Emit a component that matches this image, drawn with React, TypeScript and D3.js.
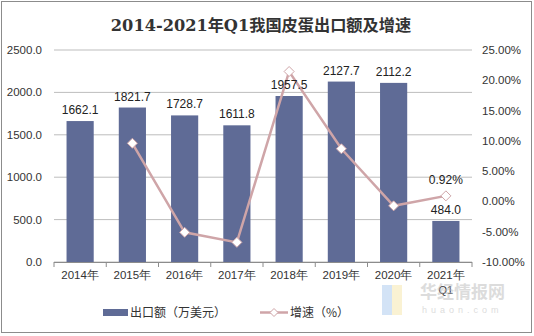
import React from "react";
import * as d3 from "d3";

const categories = ["2014年", "2015年", "2016年", "2017年", "2018年", "2019年", "2020年", "2021年"];
const subLabels = ["", "", "", "", "", "", "", "Q1"];
const exportValues = [1662.1, 1821.7, 1728.7, 1611.8, 1957.5, 2127.7, 2112.2, 484.0];
const growthValues: (number | null)[] = [null, 9.6, -5.1, -6.76, 21.45, 8.69, -0.73, 0.92];
const growthLabelShown = [false, false, false, false, false, false, false, true];
const leftTicks = [0, 500, 1000, 1500, 2000, 2500];
const rightTicks = [-10, -5, 0, 5, 10, 15, 20, 25];

const W = 534, H = 336;
const plotL = 54, plotR = 472, plotT = 50, plotB = 262;
const barColor = "#5f6b96";
const lineColor = "#cfa5a8";
const font = "'Liberation Sans', Arial, sans-serif";

export default function App() {
  const x = d3.scaleBand<string>().domain(categories).range([plotL, plotR]).paddingInner(0.48).paddingOuter(0.24);
  const band = d3.scaleBand<string>().domain(categories).range([plotL, plotR]);
  const yL = d3.scaleLinear().domain([0, 2500]).range([plotB, plotT]);
  const yR = d3.scaleLinear().domain([-10, 25]).range([plotB, plotT]);

  const pts = categories
    .map((c, i) => ({ c, v: growthValues[i], i }))
    .filter((d) => d.v !== null) as { c: string; v: number; i: number }[];
  const line = d3
    .line<{ c: string; v: number }>()
    .x((d) => (band(d.c) as number) + band.bandwidth() / 2)
    .y((d) => yR(d.v));

  const diamond = (cx: number, cy: number, r: number) =>
    `M${cx},${cy - r}L${cx + r},${cy}L${cx},${cy + r}L${cx - r},${cy}Z`;

  return (
    <svg width={W} height={H} style={{ position: "fixed", left: 0, top: 0, background: "#fff" }}>
      <rect x={1.5} y={1.5} width={530} height={331} fill="#fff" stroke="#8c8c8c" strokeWidth={1} />
      <text x={261} y={31} textAnchor="middle" fontFamily="'DejaVu Serif', 'Noto Sans CJK SC', serif" fontWeight="bold" fontSize={16.2} fill="#333">
        2014-2021年Q1我国皮蛋出口额及增速
      </text>
      {leftTicks.map((t) => (
        <line key={t} x1={plotL} x2={plotR} y1={yL(t)} y2={yL(t)} stroke="#bdbdbd" strokeWidth={1} />
      ))}
      {leftTicks.map((t) => (
        <text key={t} x={42} y={yL(t) + 4} textAnchor="end" fontFamily={font} fontSize={11.5} fill="#333">
          {t.toFixed(1)}
        </text>
      ))}
      {rightTicks.map((t) => (
        <text key={t} x={482} y={yR(t) + 4} textAnchor="start" fontFamily={font} fontSize={11.5} fill="#333">
          {t.toFixed(2)}%
        </text>
      ))}
      {categories.map((c, i) => (
        <rect key={c} x={x(c)} y={yL(exportValues[i])} width={x.bandwidth()} height={plotB - yL(exportValues[i])} fill={barColor} />
      ))}
      <line x1={plotL} x2={plotR} y1={plotB + 0.5} y2={plotB + 0.5} stroke="#8c8c8c" />
      {categories.concat([""]).map((c, i) => {
        const xx = plotL + i * band.bandwidth();
        return <line key={i} x1={xx} x2={xx} y1={plotB} y2={plotB + 5} stroke="#8c8c8c" />;
      })}
      {categories.map((c, i) => (
        <g key={c}>
          <text x={(band(c) as number) + band.bandwidth() / 2} y={plotB + 17} textAnchor="middle" fontFamily={font} fontSize={11.5} fill="#333">
            {c}
          </text>
          {subLabels[i] && (
            <text x={(band(c) as number) + band.bandwidth() / 2} y={plotB + 32} textAnchor="middle" fontFamily={font} fontSize={11} fill="#333">
              {subLabels[i]}
            </text>
          )}
        </g>
      ))}
      <path d={line(pts) || ""} fill="none" stroke={lineColor} strokeWidth={2.5} />
      {pts.map((d) => (
        <path key={d.c} d={diamond((band(d.c) as number) + band.bandwidth() / 2, yR(d.v), 5)} fill="#fff" stroke={lineColor} strokeWidth={1} />
      ))}
      {categories.map((c, i) => (
        <text key={c} x={(band(c) as number) + band.bandwidth() / 2} y={yL(exportValues[i]) - 7} textAnchor="middle" fontFamily={font} fontSize={12} fill="#222">
          {exportValues[i].toFixed(1)}
        </text>
      ))}
      {pts.filter((d) => growthLabelShown[d.i]).map((d) => (
        <text key={d.c} x={(band(d.c) as number) + band.bandwidth() / 2} y={yR(d.v) - 12} textAnchor="middle" fontFamily={font} fontSize={12} fill="#222">
          {d.v.toFixed(2)}%
        </text>
      ))}
      <g opacity={0.5}>
        <rect x={382} y={285} width={10} height={30} fill="#a9c8ee" />
        <rect x={392} y={285} width={10} height={30} fill="#f6e7a8" />
        <text x={420} y={298} fontFamily="'Noto Sans CJK SC', sans-serif" fontSize={17} fontWeight="bold" fill="#bbb">华经情报网</text>
        <text x={422} y={313} fontFamily={font} fontSize={9} letterSpacing={4} fill="#bbb">huaon.com</text>
      </g>
      <rect x={103} y={309} width={25} height={7} fill={barColor} />
      <text x={130} y={317} fontFamily="'Noto Sans CJK SC', sans-serif" fontSize={12} fill="#333">出口额（万美元）</text>
      <line x1={260} x2={288} y1={312.5} y2={312.5} stroke={lineColor} strokeWidth={2.5} />
      <path d={diamond(274, 312.5, 4)} fill="#fff" stroke={lineColor} />
      <text x={290} y={317} fontFamily="'Noto Sans CJK SC', sans-serif" fontSize={12} fill="#333">增速（%）</text>
    </svg>
  );
}
